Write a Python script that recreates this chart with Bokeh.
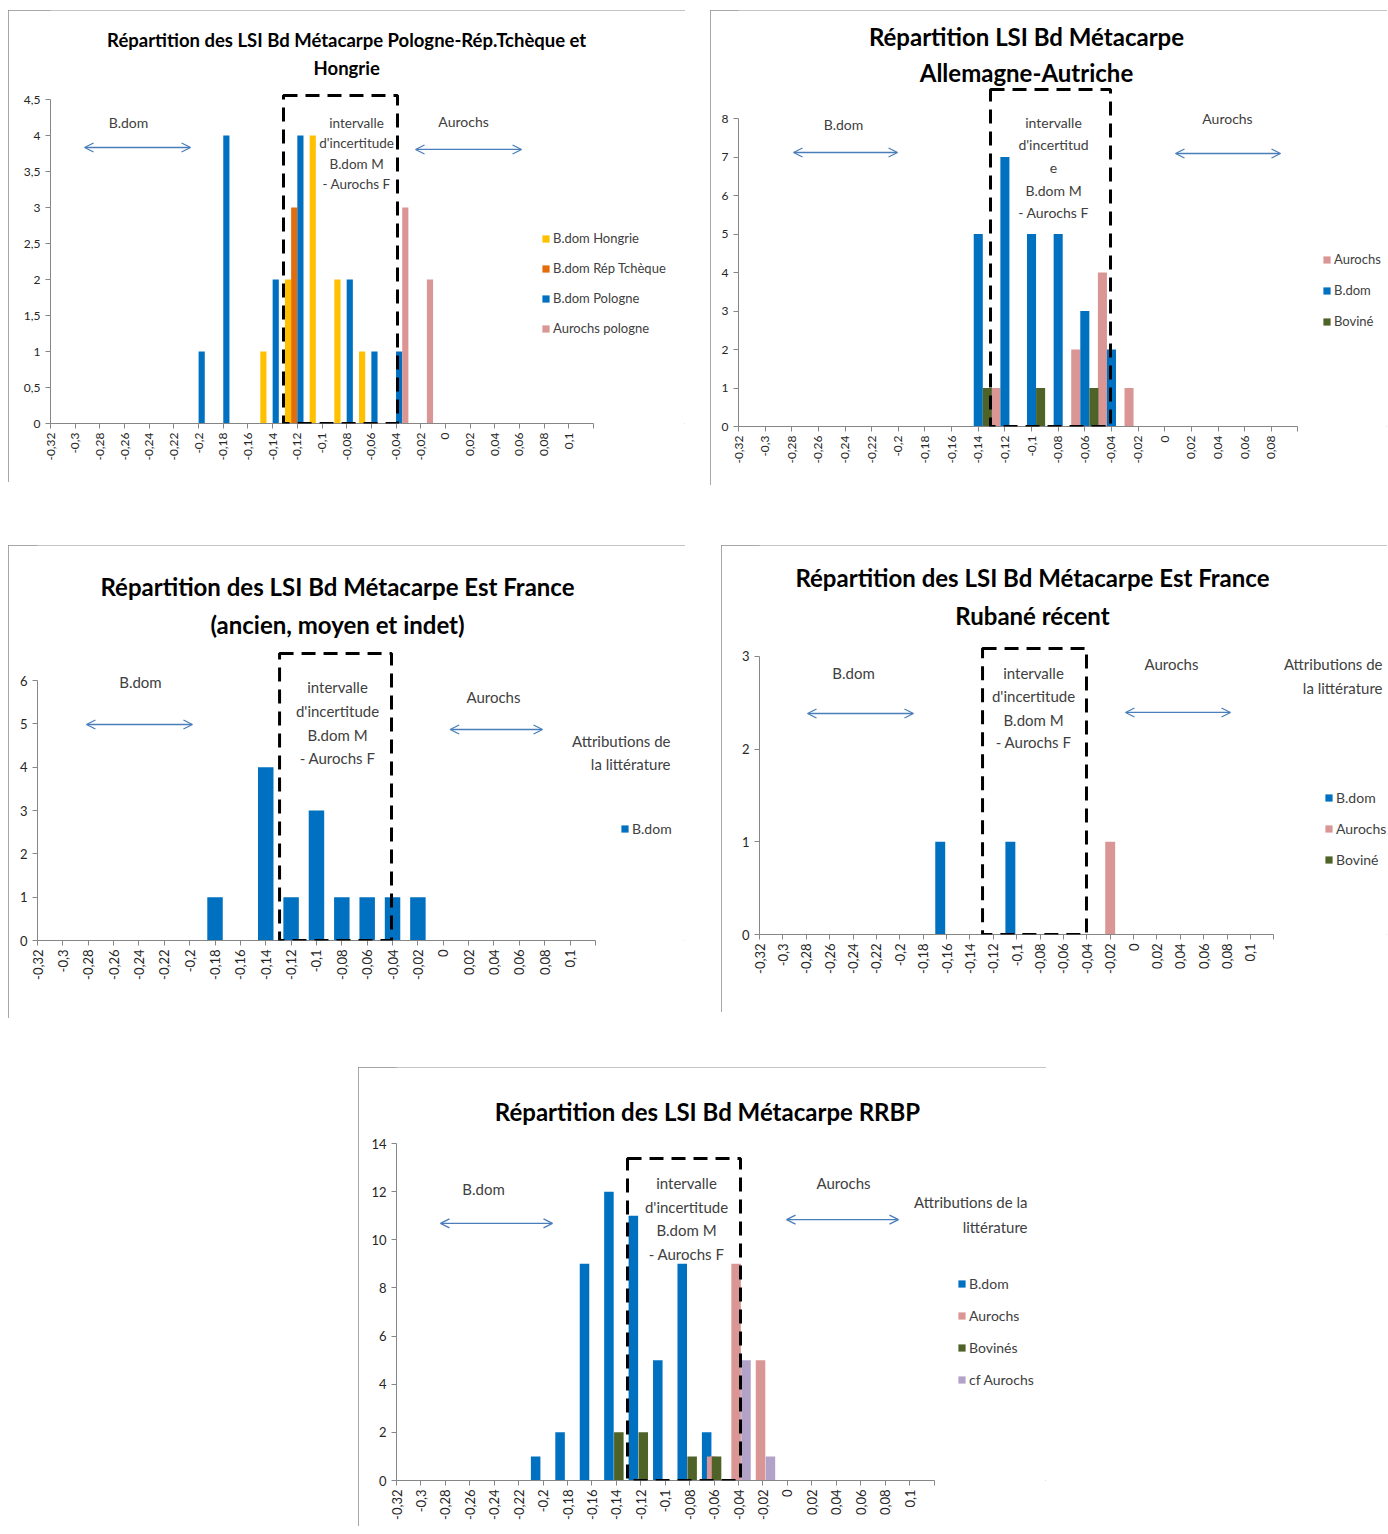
import math
from bokeh.plotting import figure
from bokeh.models import (ColumnDataSource, Range1d, FixedTicker, Label, Arrow, OpenHead,
                          BoxAnnotation, Legend, LegendItem, Spacer)
from bokeh.layouts import row, column
from bokeh.transform import dodge
from bokeh.embed import file_html
from bokeh.resources import INLINE

FONT = "Lato"

# ---------------- data ----------------
CATS = [-0.32, -0.30, -0.28, -0.26, -0.24, -0.22, -0.20, -0.18, -0.16, -0.14, -0.12,
        -0.10, -0.08, -0.06, -0.04, -0.02, 0.00, 0.02, 0.04, 0.06, 0.08, 0.10]
TICK_LABELS = ["-0,32", "-0,3", "-0,28", "-0,26", "-0,24", "-0,22", "-0,2", "-0,18", "-0,16",
               "-0,14", "-0,12", "-0,1", "-0,08", "-0,06", "-0,04", "-0,02", "0", "0,02",
               "0,04", "0,06", "0,08", "0,1"]

# Chart 1 : Pologne - Rép. Tchèque - Hongrie
C1_HONGRIE = [0, 0, 0, 0, 0, 0, 0, 0, 0, 1, 2, 4, 2, 1, 0, 0, 0, 0, 0, 0, 0, 0]
C1_TCHEQUE = [0, 0, 0, 0, 0, 0, 0, 0, 0, 0, 3, 0, 0, 0, 0, 0, 0, 0, 0, 0, 0, 0]
C1_POLOGNE = [0, 0, 0, 0, 0, 0, 1, 4, 0, 2, 4, 0, 2, 1, 1, 0, 0, 0, 0, 0, 0, 0]
C1_AUROCHS = [0, 0, 0, 0, 0, 0, 0, 0, 0, 0, 0, 0, 0, 0, 3, 2, 0, 0, 0, 0, 0, 0]
C1_YTICKS = [0, 0.5, 1, 1.5, 2, 2.5, 3, 3.5, 4, 4.5]
C1_YLABELS = ["0", "0,5", "1", "1,5", "2", "2,5", "3", "3,5", "4", "4,5"]

# Chart 2 : Allemagne - Autriche
C2_AUROCHS = [0, 0, 0, 0, 0, 0, 0, 0, 0, 0, 1, 0, 0, 2, 4, 1, 0, 0, 0, 0, 0, 0]
C2_BDOM = [0, 0, 0, 0, 0, 0, 0, 0, 0, 5, 7, 5, 5, 3, 2, 0, 0, 0, 0, 0, 0, 0]
C2_BOVINE = [0, 0, 0, 0, 0, 0, 0, 0, 0, 1, 0, 1, 0, 1, 0, 0, 0, 0, 0, 0, 0, 0]
C2_YTICKS = [0, 1, 2, 3, 4, 5, 6, 7, 8]

# Chart 3 : Est France (ancien, moyen et indet)
C3_BDOM = [0, 0, 0, 0, 0, 0, 0, 1, 0, 4, 1, 3, 1, 1, 1, 1, 0, 0, 0, 0, 0, 0]
C3_YTICKS = [0, 1, 2, 3, 4, 5, 6]

# Chart 4 : Est France Rubané récent
C4_BDOM = [0, 0, 0, 0, 0, 0, 0, 0, 1, 0, 0, 1, 0, 0, 0, 0, 0, 0, 0, 0, 0, 0]
C4_AUROCHS = [0, 0, 0, 0, 0, 0, 0, 0, 0, 0, 0, 0, 0, 0, 0, 1, 0, 0, 0, 0, 0, 0]
C4_BOVINE = [0, 0, 0, 0, 0, 0, 0, 0, 0, 0, 0, 0, 0, 0, 0, 0, 0, 0, 0, 0, 0, 0]
C4_YTICKS = [0, 1, 2, 3]

# Chart 5 : RRBP
C5_BDOM = [0, 0, 0, 0, 0, 0, 1, 2, 9, 12, 11, 5, 9, 2, 0, 0, 0, 0, 0, 0, 0, 0]
C5_AUROCHS = [0, 0, 0, 0, 0, 0, 0, 0, 0, 0, 0, 0, 0, 1, 9, 5, 0, 0, 0, 0, 0, 0]
C5_BOVINES = [0, 0, 0, 0, 0, 0, 0, 0, 0, 2, 2, 0, 1, 1, 0, 0, 0, 0, 0, 0, 0, 0]
C5_CFAUROCHS = [0, 0, 0, 0, 0, 0, 0, 0, 0, 0, 0, 0, 0, 0, 5, 1, 0, 0, 0, 0, 0, 0]
C5_YTICKS = [0, 2, 4, 6, 8, 10, 12, 14]

# ---------------- styles ----------------
BLUE = "#0070C0"
PINK = "#D99694"
GREEN = "#4F6228"
PURPLE = "#B3A2C7"
YELLOW = "#FFC000"
ORANGE = "#E46C0A"
ARROW_C = "#4A7EBB"
TEXT = "#404040"
AXIS = "#868686"


def make_fig(width, height, left, bottom, xunit, yunit, x_end, n_labels, y_max,
             yticks, ylabels, fs_axis):
    # frame spans the whole canvas right of the y axis and above the x axis;
    # the axes themselves are limited with bounds
    x_view = -0.32 + (width - left) / xunit
    y_view = (height - bottom) / yunit
    p = figure(width=width, height=height, output_backend="svg", toolbar_location=None,
               title_location=None,
               x_range=Range1d(-0.32, x_view), y_range=Range1d(0, y_view),
               min_border_left=left, min_border_right=0,
               min_border_top=0, min_border_bottom=bottom,
               background_fill_color="white", border_fill_color="white",
               outline_line_color=None)
    p.styles = {"outline": "1px solid #8a8a8a", "outline-offset": "-1px"}
    p.grid.visible = False
    xt = CATS[:n_labels] + [x_end]
    p.xaxis.ticker = FixedTicker(ticks=xt)
    ov = {c: l for c, l in zip(CATS[:n_labels], TICK_LABELS[:n_labels])}
    ov[x_end] = ""
    p.xaxis.major_label_overrides = ov
    p.xaxis.major_label_orientation = math.pi / 2
    p.xaxis.bounds = (-0.32, x_end)
    p.yaxis.ticker = FixedTicker(ticks=yticks)
    p.yaxis.bounds = (0, y_max)
    if ylabels is not None:
        p.yaxis.major_label_overrides = {t: l for t, l in zip(yticks, ylabels)}
    p.axis.axis_line_color = AXIS
    p.axis.major_tick_line_color = AXIS
    p.axis.minor_tick_line_color = None
    p.axis.major_tick_in = 0
    p.axis.major_tick_out = 5
    p.axis.major_label_text_font = FONT
    p.axis.major_label_text_font_size = fs_axis
    p.axis.major_label_text_color = "#262626"
    p.xaxis.major_label_standoff = 4
    p.yaxis.major_label_standoff = 5
    return p


def add_bars(p, series, bw, offsets, leg_loc, leg_fs, leg_spacing):
    items = []
    for (name, vals, color), off in zip(series, offsets):
        src = ColumnDataSource(dict(x=CATS, top=vals))
        r = p.vbar(x=dodge("x", off), top="top", bottom=0, width=bw, source=src,
                   fill_color=color, line_color=None)
        items.append(LegendItem(label=name, renderers=[r]))
    leg = Legend(items=items, location=leg_loc, orientation="vertical",
                 background_fill_alpha=0, border_line_color=None, padding=0, margin=0,
                 spacing=leg_spacing, glyph_width=9, glyph_height=9, label_height=20,
                 label_standoff=3, label_text_font=FONT, label_text_font_size=leg_fs,
                 label_text_color=TEXT)
    p.add_layout(leg)


def txt(p, x, y, t, fs, bold=False, align="center", color=TEXT):
    p.add_layout(Label(x=x, y=y, text=t, text_font=FONT, text_font_size=fs,
                       text_font_style="bold" if bold else "normal", text_color=color,
                       text_align=align, text_baseline="middle"))


def arrow(p, x0, x1, y):
    p.add_layout(Arrow(start=OpenHead(size=9, line_color=ARROW_C, line_width=1.3),
                       end=OpenHead(size=9, line_color=ARROW_C, line_width=1.3),
                       x_start=x0, y_start=y, x_end=x1, y_end=y,
                       line_color=ARROW_C, line_width=1.3))


def box(p, left, right, top):
    p.add_layout(BoxAnnotation(left=left, right=right, bottom=0, top=top,
                               fill_color=None, fill_alpha=0, line_color="black",
                               line_width=3, line_dash="14 8", line_alpha=1))


# ---------------- chart 1 ----------------
p1 = make_fig(677, 472, 42, 59, 1234.1, 72.0, 0.12, 22, 4.5, C1_YTICKS, C1_YLABELS, "12px")
box(p1, -0.1312, -0.0388, 4.556)
add_bars(p1, [("B.dom Hongrie", C1_HONGRIE, YELLOW), ("B.dom Rép Tchèque", C1_TCHEQUE, ORANGE),
              ("B.dom Pologne", C1_POLOGNE, BLUE), ("Aurochs pologne", C1_AUROCHS, PINK)],
         0.005, [-0.0075, -0.0025, 0.0025, 0.0075], (491, 85), "13px", 10)
txt(p1, -0.080, 5.333, "Répartition des LSI Bd Métacarpe Pologne-Rép.Tchèque et", "18.5px", True, color="black")
txt(p1, -0.080, 4.944, "Hongrie", "18.5px", True, color="black")
txt(p1, -0.2568, 4.18, "B.dom", "14px")
arrow(p1, -0.2924, -0.2065, 3.833)
txt(p1, 0.0147, 4.194, "Aurochs", "14px")
arrow(p1, -0.0242, 0.0617, 3.806)
for t, y in zip(["intervalle", "d'incertitude", "B.dom M", "- Aurochs F"], [4.18, 3.90, 3.61, 3.33]):
    txt(p1, -0.072, y, t, "13.5px")

# ---------------- chart 2 ----------------
p2 = make_fig(677, 475, 28, 59, 1332.0, 38.5, 0.10, 21, 8, C2_YTICKS, None, "12px")
box(p2, -0.1308, -0.0407, 8.753)
add_bars(p2, [("Aurochs", C2_AUROCHS, PINK), ("B.dom", C2_BDOM, BLUE), ("Boviné", C2_BOVINE, GREEN)],
         0.0068, [-0.0068, 0.0, 0.0068], (584, 95), "13px", 11)
txt(p2, -0.1038, 10.13, "Répartition LSI Bd Métacarpe", "24px", True, color="black")
txt(p2, -0.1038, 9.195, "Allemagne-Autriche", "24px", True, color="black")
txt(p2, -0.2412, 7.844, "B.dom", "14px")
arrow(p2, -0.2787, -0.2006, 7.117)
txt(p2, 0.0471, 8.0, "Aurochs", "14px")
arrow(p2, 0.0081, 0.0869, 7.091)
for t, y in zip(["intervalle", "d'incertitud", "e", "B.dom M", "- Aurochs F"],
                [7.896, 7.325, 6.727, 6.130, 5.558]):
    txt(p2, -0.0835, y, t, "14px")

# ---------------- chart 3 ----------------
p3 = make_fig(677, 473, 29, 78, 1268.0, 43.33, 0.12, 22, 6, C3_YTICKS, None, "13px")
box(p3, -0.1291, -0.0408, 6.623)
add_bars(p3, [("B.dom", C3_BDOM, BLUE)], 0.0122, [0.0], (583, 102), "14px", 10)
txt(p3, -0.0834, 8.17, "Répartition des LSI Bd Métacarpe Est France", "24px", True, color="black")
txt(p3, -0.0834, 7.29, "(ancien, moyen et indet)", "24px", True, color="black")
txt(p3, -0.2388, 5.977, "B.dom", "15px")
arrow(p3, -0.2814, -0.1978, 4.985)
txt(p3, 0.0396, 5.631, "Aurochs", "15px")
arrow(p3, 0.00546, 0.0783, 4.870)
txt(p3, 0.1792, 4.593, "Attributions de", "15px", align="right")
txt(p3, 0.1792, 4.062, "la littérature", "15px", align="right")
for t, y in zip(["intervalle", "d'incertitude", "B.dom M", "- Aurochs F"], [5.839, 5.308, 4.754, 4.223]):
    txt(p3, -0.0834, y, t, "15px")

# ---------------- chart 4 ----------------
p4 = make_fig(666, 467, 38, 78, 1169.0, 92.67, 0.12, 22, 3, C4_YTICKS, None, "13px")
box(p4, -0.1292, -0.0403, 3.086)
add_bars(p4, [("B.dom", C4_BDOM, BLUE), ("Aurochs", C4_AUROCHS, PINK), ("Boviné", C4_BOVINE, GREEN)],
         0.0085, [-0.0054, 0.0, 0.0054], (565, 65), "14px", 11)
txt(p4, -0.0865, 3.852, "Répartition des LSI Bd Métacarpe Est France", "24px", True, color="black")
txt(p4, -0.0865, 3.442, "Rubané récent", "24px", True, color="black")
txt(p4, -0.2396, 2.827, "B.dom", "15px")
arrow(p4, -0.2789, -0.1883, 2.385)
txt(p4, 0.0324, 2.924, "Aurochs", "15px")
arrow(p4, -0.0069, 0.0829, 2.396)
txt(p4, 0.2129, 2.924, "Attributions de", "15px", align="right")
txt(p4, 0.2129, 2.665, "la littérature", "15px", align="right")
for t, y in zip(["intervalle", "d'incertitude", "B.dom M", "- Aurochs F"], [2.827, 2.579, 2.320, 2.072]):
    txt(p4, -0.0856, y, t, "15px")

# ---------------- chart 5 ----------------
p5 = make_fig(688, 459, 38, 46, 1221.6, 24.07, 0.12, 22, 14, C5_YTICKS, None, "13px")
box(p5, -0.1309, -0.0384, 13.38)
add_bars(p5, [("B.dom", C5_BDOM, BLUE), ("Aurochs", C5_AUROCHS, PINK),
              ("Bovinés", C5_BOVINES, GREEN), ("cf Aurochs", C5_CFAUROCHS, PURPLE)],
         0.0078, [-0.0061, -0.002, 0.002, 0.0061], (561, 91), "14px", 12)
txt(p5, -0.0654, 15.33, "Répartition des LSI Bd Métacarpe RRBP", "24px", True, color="black")
txt(p5, -0.2488, 12.13, "B.dom", "15px")
arrow(p5, -0.284, -0.1923, 10.68)
txt(p5, 0.0459, 12.34, "Aurochs", "15px")
arrow(p5, -0.0007, 0.0909, 10.84)
txt(p5, 0.1965, 11.55, "Attributions de la", "15px", align="right")
txt(p5, 0.1965, 10.55, "littérature", "15px", align="right")
for t, y in zip(["intervalle", "d'incertitude", "B.dom M", "- Aurochs F"], [12.38, 11.38, 10.39, 9.43]):
    txt(p5, -0.0826, y, t, "15px")

layout = column(
    Spacer(height=10),
    row(Spacer(width=8), p1, Spacer(width=25), p2),
    Spacer(height=60),
    row(Spacer(width=8), p3, Spacer(width=36), p4),
    Spacer(height=49),
    row(Spacer(width=358), p5),
)

open("out.html", "w").write(file_html(layout, INLINE))
